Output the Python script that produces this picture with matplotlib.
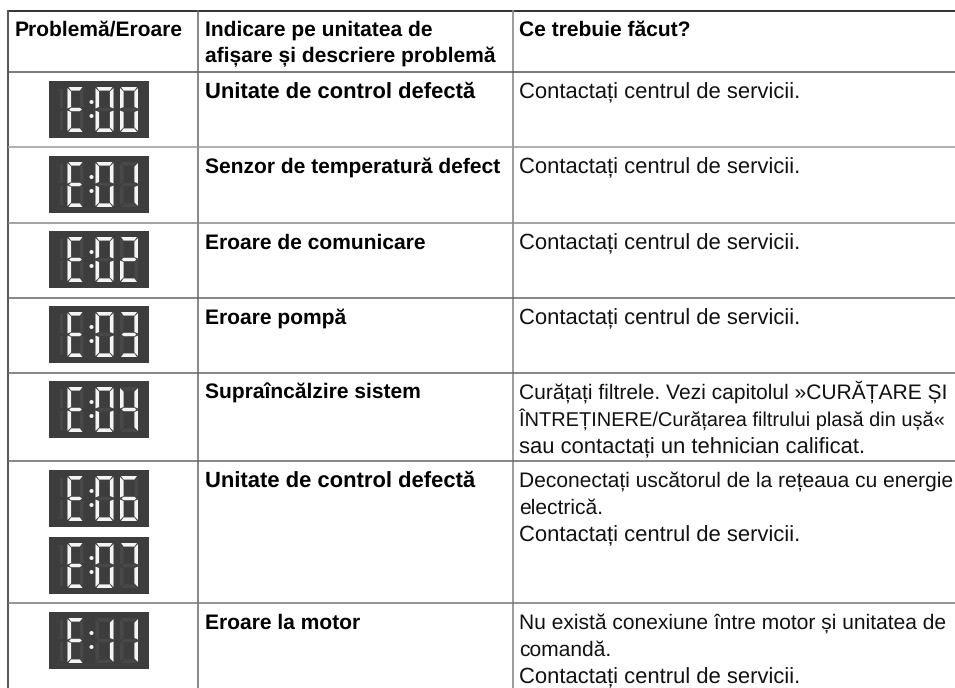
import matplotlib
matplotlib.use('Agg')
import matplotlib.pyplot as plt
import numpy as np
from matplotlib.patches import Rectangle, Polygon, Circle

plt.rcParams['font.family'] = ['Liberation Sans', 'DejaVu Sans']
plt.rcParams['text.hinting'] = 'none'
plt.rcParams['text.hinting_factor'] = 1

header_left = 'Problemă/Eroare'
header_mid = ['Indicare pe unitatea de', 'afișare și descriere problemă']
header_right = 'Ce trebuie făcut?'
codes = [['00'], ['01'], ['02'], ['03'], ['04'], ['06', '07'], ['11']]
problems = ['Unitate de control defectă', 'Senzor de temperatură defect', 'Eroare de comunicare',
            'Eroare pompă', 'Supraîncălzire sistem', 'Unitate de control defectă', 'Eroare la motor']
contact = 'Contactați centrul de servicii.'
actions = [[contact], [contact], [contact], [contact],
           ['Curățați filtrele. Vezi capitolul »CURĂȚARE ȘI',
            'ÎNTREȚINERE/Curățarea filtrului plasă din ușă«',
            'sau contactați un tehnician calificat.'],
           ['Deconectați uscătorul de la rețeaua cu energie', 'electrică.', contact],
           ['Nu există conexiune între motor și unitatea de', 'comandă.', contact]]

# where each line of text ends in the reference, px
header_ends = {'left': 183, 'mid': [437, 497], 'right': 693}
problem_ends = [469, 498, 429, 348, 423, 469, 363]
action_ends = [[795], [795], [795], [795], [944, 945, 859], [945, 605, 795], [944, 613, 795]]

row_lines = [72, 147, 223, 298, 373, 461, 603]
row_colors = ['#555555', '#999999', '#888888', '#666666', '#666666', '#666666', '#777777']
display_tops = [[81], [156], [231], [306], [381], [470, 537], [612]]

segments = {'0': 'abcdef', '1': 'bc', '2': 'abdeg', '3': 'abcdg', '4': 'bcfg',
            '6': 'acdefg', '7': 'abc', 'E': 'adefg'}
on_color = '#f4f4f4'
ghost_color = '#484848'
LINE_STEP = 27


def draw_digit(ax, x, y, ch, w=18, h=45, t=3.6):
    m = h / 2
    gap = 1.0
    shapes = {
        'a': [(x + gap, y), (x + w - gap, y), (x + w - t, y + t), (x + t, y + t)],
        'd': [(x + gap, y + h), (x + w - gap, y + h), (x + w - t, y + h - t), (x + t, y + h - t)],
        'g': [(x + 1.5, y + m), (x + t, y + m - 1.7), (x + w - t, y + m - 1.7), (x + w - 1.5, y + m), (x + w - t, y + m + 1.7), (x + t, y + m + 1.7)],
        'f': [(x, y + 1), (x + t, y + t + 1), (x + t, y + m - 2.5), (x, y + m - 1)],
        'e': [(x, y + m + 1), (x + t, y + m + 2.5), (x + t, y + h - t - 1), (x, y + h - 1)],
        'b': [(x + w, y + 1), (x + w - t, y + t + 1), (x + w - t, y + m - 2.5), (x + w, y + m - 1)],
        'c': [(x + w, y + m + 1), (x + w - t, y + m + 2.5), (x + w - t, y + h - t - 1), (x + w, y + h - 1)],
    }
    for pts in shapes.values():
        ax.add_patch(Polygon(pts, closed=True, fc=ghost_color, ec='none', zorder=3))
    for name in segments.get(ch, ''):
        ax.add_patch(Polygon(shapes[name], closed=True, fc=on_color, ec='none', zorder=4))


def draw_display(ax, top, code):
    ax.add_patch(Rectangle((49, top), 100, 57, fc='#3d3d3d', ec='none', zorder=2))
    # unlit leading segment left of the E
    ax.add_patch(Rectangle((60, top + 8), 3, 19, fc=ghost_color, ec='none', zorder=3))
    ax.add_patch(Rectangle((60, top + 30), 3, 19, fc=ghost_color, ec='none', zorder=3))
    draw_digit(ax, 67.5, top + 6, 'E', w=16)
    draw_digit(ax, 95.5, top + 6, code[0])
    draw_digit(ax, 120, top + 6, code[1])
    for dy in (21, 35):
        ax.add_patch(Circle((91.5, top + dy), 2.0, fc=on_color, ec='none', zorder=4))


def fit_text(ax, x, y, s, end, **kw):
    # Helvetica and Liberation differ line by line, so size each line to its end.
    # Measured width jumps with size, so try sizes and keep the closest.
    t = ax.text(x, y, s, va='baseline', **kw)
    renderer = fig.canvas.get_renderer()
    best, best_err = 15.0, 1e9
    for size in np.arange(14.0, 16.01, 0.1):
        t.set_fontsize(size)
        err = abs(t.get_window_extent(renderer).width - (end - x))
        if err < best_err:
            best, best_err = size, err
    t.set_fontsize(best)


fig = plt.figure(figsize=(9.55, 6.88), dpi=100)
ax = fig.add_axes([0, 0, 1, 1])
ax.set_xlim(0, 955)
ax.set_ylim(688, 0)
ax.axis('off')

ax.plot([7.5, 955], [10.5, 10.5], color='#222222', lw=1.3, solid_capstyle='butt')
ax.plot([8, 8], [10, 688], color='#555555', lw=1.4, solid_capstyle='butt')
ax.plot([198, 198], [10, 688], color='#666666', lw=1.1, solid_capstyle='butt')
ax.plot([513, 513], [10, 688], color='#8a8a8a', lw=1.2, solid_capstyle='butt')
for y, c in zip(row_lines, row_colors):
    ax.plot([8, 955], [y, y], color=c, lw=1.1, solid_capstyle='butt')

fit_text(ax, 15, 35.5, header_left, header_ends['left'], fontweight='bold', color='black')
for i, line in enumerate(header_mid):
    fit_text(ax, 205, 35.5 + i * LINE_STEP, line, header_ends['mid'][i], fontweight='bold', color='black')
fit_text(ax, 519, 35.5, header_right, header_ends['right'], fontweight='bold', color='black')

for r in range(len(problems)):
    base = row_lines[r] + 26
    fit_text(ax, 205, base, problems[r], problem_ends[r], fontweight='bold', color='black')
    for i, line in enumerate(actions[r]):
        fit_text(ax, 519, base + i * LINE_STEP, line, action_ends[r][i], color='#111111')
    for top, code in zip(display_tops[r], codes[r]):
        draw_display(ax, top, code)

fig.savefig('out.png', dpi=100)
